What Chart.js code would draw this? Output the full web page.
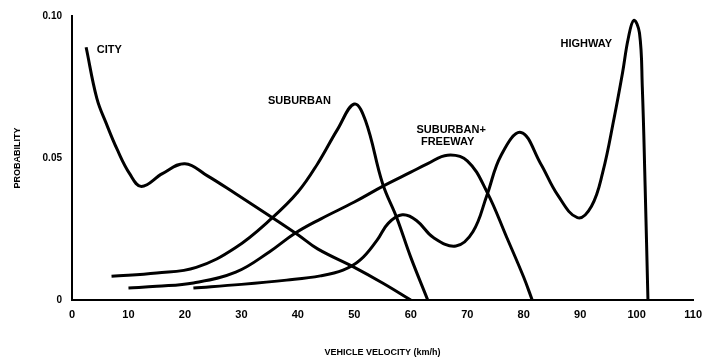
<!DOCTYPE html>
<html>
<head>
<meta charset="utf-8">
<script src="https://cdn.jsdelivr.net/npm/chart.js@4/dist/chart.umd.min.js"></script>
<style>
  html, body { margin: 0; padding: 0; background: #fff; }
</style>
</head>
<body>
<canvas id="chart" width="710" height="361"></canvas>
<script>
// velocity (km/h) and probability for each curve
const cityVel = [2.5, 4.4, 6.1, 8, 10.2, 12.3, 16, 20, 24, 29, 35.5, 40, 43.5, 50, 55, 60]
const cityProb = [0.089, 0.071, 0.062, 0.053, 0.0445, 0.040, 0.0445, 0.048, 0.0437, 0.0374, 0.029, 0.023, 0.018, 0.0115, 0.006, 0]

const suburbanVel = [7, 15, 22, 29, 35.5, 40, 43.5, 47, 50, 52, 55, 57.5, 60, 63]
const suburbanProb = [0.0084, 0.0095, 0.0115, 0.0185, 0.029, 0.038, 0.048, 0.060, 0.069, 0.063, 0.041, 0.029, 0.015, 0]

const freewayVel = [10, 15, 21.5, 29, 35, 39.5, 44, 50, 55, 60, 63, 66.5, 70, 73.5, 77, 80, 81.5]
const freewayProb = [0.0042, 0.0048, 0.006, 0.0098, 0.017, 0.0235, 0.0285, 0.0345, 0.040, 0.045, 0.048, 0.051, 0.049, 0.038, 0.022, 0.008, 0]

const highwayVel = [21.5, 30, 38, 44, 48, 51, 54, 56, 58.5, 61, 64, 68, 71, 73.5, 76, 79.5, 83, 86, 89.5, 92, 94, 96, 97.5, 98.5, 99.5, 100.5, 101, 101.5, 102]
const highwayProb = [0.0042, 0.0055, 0.007, 0.0085, 0.0105, 0.014, 0.021, 0.027, 0.030, 0.028, 0.022, 0.019, 0.024, 0.037, 0.051, 0.059, 0.048, 0.037, 0.029, 0.033, 0.045, 0.064, 0.080, 0.092, 0.0985, 0.094, 0.075, 0.040, 0]

// curve labels written on the plot
const noteText = ['CITY', 'SUBURBAN', 'SUBURBAN+', 'FREEWAY', 'HIGHWAY']
const noteVel = [4.4, 34.7, 61, 61.8, 86.5]
const noteProb = [0.088, 0.070, 0.060, 0.0556, 0.090]

function toPoints(xs, ys) {
    return xs.map(function(x, i) { return {x: x, y: ys[i]} })
}

let _line = {
    borderColor: '#000',
    borderWidth: 3,
    pointRadius: 0,
    fill: false,
    tension: 0.4
}

const notesPlugin = {
    id: 'notes',
    afterDatasetsDraw(chart) {
        const ctx = chart.ctx
        const xs = chart.scales.x
        const ys = chart.scales.y
        ctx.save()
        ctx.fillStyle = '#000'
        ctx.font = 'bold 11px "Liberation Sans", Arial, sans-serif'
        ctx.textAlign = 'left'
        ctx.textBaseline = 'middle'
        noteText.forEach(function(t, i) {
            ctx.fillText(t, xs.getPixelForValue(noteVel[i]), ys.getPixelForValue(noteProb[i]))
        })
        ctx.restore()
    }
}

const tickFont = {family: '"Liberation Sans", Arial, sans-serif', size: 11, weight: 'bold'}

new Chart(document.getElementById('chart').getContext('2d'), {
    type: 'line',
    data: {
        datasets: [
            Object.assign({label: 'City', data: toPoints(cityVel, cityProb)}, _line),
            Object.assign({label: 'Suburban', data: toPoints(suburbanVel, suburbanProb)}, _line),
            Object.assign({label: 'Suburban + Freeway', data: toPoints(freewayVel, freewayProb)}, _line),
            Object.assign({label: 'Highway', data: toPoints(highwayVel, highwayProb)}, _line)
        ]
    },
    options: {
        responsive: false,
        animation: false,
        layout: {padding: {left: 0, right: 10, top: 14, bottom: 0}},
        plugins: {legend: {display: false}, tooltip: {enabled: false}},
        scales: {
            x: {
                type: 'linear',
                min: 0,
                max: 110,
                ticks: {stepSize: 10, color: '#000', font: tickFont, padding: 8, maxRotation: 0},
                grid: {color: 'rgba(0,0,0,0)', drawTicks: false},
                border: {color: '#000', width: 2},
                title: {
                    display: true,
                    text: 'VEHICLE VELOCITY (km/h)',
                    color: '#000',
                    font: {family: '"Liberation Sans", Arial, sans-serif', size: 9, weight: 'bold'},
                    padding: {top: 4, bottom: 3}
                },
                afterFit(scale) { scale.height = 61 }
            },
            y: {
                min: 0,
                max: 0.1,
                ticks: {
                    stepSize: 0.05,
                    color: '#000',
                    font: {family: '"Liberation Sans", Arial, sans-serif', size: 10, weight: 'bold'},
                    padding: 10,
                    callback: function(v) { return v === 0 ? '0' : v.toFixed(2) }
                },
                grid: {color: 'rgba(0,0,0,0)', drawTicks: false},
                border: {color: '#000', width: 2},
                title: {
                    display: true,
                    text: 'PROBABILITY',
                    color: '#000',
                    font: {family: '"Liberation Sans", Arial, sans-serif', size: 9, weight: 'bold'},
                    padding: {top: 12, bottom: 0}
                },
                afterFit(scale) { scale.width = 72 }
            }
        }
    },
    plugins: [notesPlugin]
})
</script>
</body>
</html>
